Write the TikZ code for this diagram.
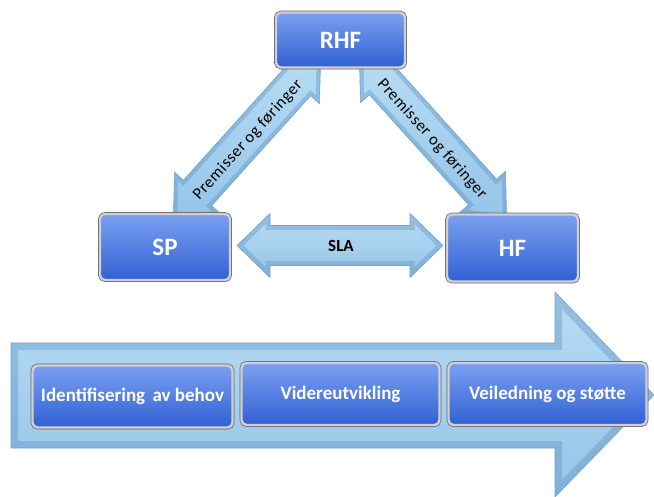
\documentclass[tikz,border=0pt]{standalone}
\usepackage{fontspec}
\setmainfont{Carlito}
\usetikzlibrary{calc,shadows}
\definecolor{boxtop}{RGB}{122,160,240}
\definecolor{boxbot}{RGB}{50,96,212}
\definecolor{boxrim}{RGB}{208,208,212}
\definecolor{boxout}{RGB}{100,100,110}
\definecolor{arrtop}{RGB}{184,220,244}
\definecolor{arrbot}{RGB}{148,196,231}
\definecolor{arredge}{RGB}{96,148,196}
\definecolor{arrline}{RGB}{125,168,206}
\newcommand\dblarrowpath[4]{(-#1,0) -- (-#1+#2,-#3) -- (-#1+#2,-#4) -- (#1-#2,-#4) -- (#1-#2,-#3) -- (#1,0) -- (#1-#2,#3) -- (#1-#2,#4) -- (-#1+#2,#4) -- (-#1+#2,#3) -- cycle}
\begin{document}
\begin{tikzpicture}[x=1pt,y=-1pt,
  box/.style={rounded corners=5pt, top color=boxtop, bottom color=boxbot,
    draw=boxrim, line width=2.4pt,
    preaction={draw=boxout, line width=3.8pt},
    drop shadow={shadow xshift=1.5pt, shadow yshift=-2pt, opacity=0.3},
    text=white, font=\bfseries, inner sep=0pt},
  bigbox/.style={box, font=\fontsize{25}{25}\selectfont\bfseries},
  stepbox/.style={box, font=\fontsize{19}{19}\selectfont\bfseries},
  arrbody/.style={top color=arrtop, bottom color=arrbot, draw=arrline, line width=0.6pt},
  arrbevel/.style={draw=arredge, opacity=0.4},
  arrtext/.style={font=\fontsize{16.5}{16.5}\selectfont\addfontfeature{LetterSpace=4}, text=black, inner sep=0pt}]
\useasboundingbox (0,0) rectangle (654,497);

% centres of the connector arrows
\coordinate (leftC) at (247,138);
\coordinate (rightC) at (433,137);
\coordinate (slaC) at (340,245.5);

% left diagonal double arrow
\begin{scope}[shift={(leftC)}, rotate=48]
  \path[arrbody] \dblarrowpath{110}{36}{31}{19};
  \begin{scope}
    \clip \dblarrowpath{110}{36}{31}{19};
    \path[arrbevel, line width=8pt] \dblarrowpath{110}{36}{31}{19};
  \end{scope}
\end{scope}
\node[arrtext, rotate=48] (lefttxt) at ($(leftC)+(1,2)$) {Premisser og føringer};

% right diagonal double arrow
\begin{scope}[shift={(rightC)}, rotate=-48]
  \path[arrbody] \dblarrowpath{110}{36}{31}{19};
  \begin{scope}
    \clip \dblarrowpath{110}{36}{31}{19};
    \path[arrbevel, line width=8pt] \dblarrowpath{110}{36}{31}{19};
  \end{scope}
\end{scope}
\node[arrtext, rotate=-48] (righttxt) at ($(rightC)+(-1,2)$) {Premisser og føringer};

% SLA double arrow
\begin{scope}[shift={(slaC)}]
  \path[arrbody] \dblarrowpath{103}{33}{32}{20};
  \begin{scope}
    \clip \dblarrowpath{103}{33}{32}{20};
    \path[arrbevel, line width=9pt] \dblarrowpath{103}{33}{32}{20};
  \end{scope}
\end{scope}
\node[text=black, inner sep=0pt, font=\fontsize{17}{17}\selectfont\bfseries] (sla) at (341,246) {SLA};

% boxes of the triangle
\node[bigbox, minimum width=129pt, minimum height=55pt] (RHF) at (340.5,40) {RHF};
\node[bigbox, minimum width=130pt, minimum height=66pt] (SP) at (165,247) {SP};
\node[bigbox, minimum width=131pt, minimum height=67pt] (HF) at (512.5,248) {HF};

% big process arrow
\path[arrbody] (11,343) -- (555,343) -- (555,292) -- (654,395) -- (555,497) -- (555,448) -- (11,448) -- cycle;
\begin{scope}
  \clip (11,343) -- (555,343) -- (555,292) -- (654,395) -- (555,497) -- (555,448) -- (11,448) -- cycle;
  \path[arrbevel, line width=14pt] (11,343) -- (555,343) -- (555,292) -- (654,395) -- (555,497) -- (555,448) -- (11,448) -- cycle;
\end{scope}

% step boxes
\node[stepbox, minimum width=200pt, minimum height=62pt] (s1) at (132.5,396.5) {Identifisering\hspace{3pt} av behov};
\node[stepbox, minimum width=198pt, minimum height=62pt] (s2) at (340.5,394) {Videreutvikling};
\node[stepbox, minimum width=198pt, minimum height=62pt] (s3) at (547.5,394) {Veiledning og støtte};
\end{tikzpicture}
\end{document}
